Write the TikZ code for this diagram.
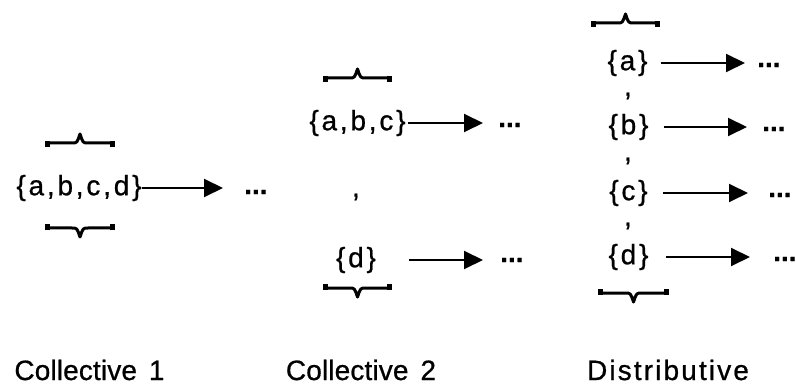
\documentclass[tikz,border=0pt]{standalone}
\usepackage{fontspec}
\setmainfont{Liberation Sans}[FakeBold=0.7]
\usetikzlibrary{arrows.meta,calc}
\tikzset{
  txt/.style={inner sep=0pt, font=\fontsize{28}{32}\selectfont\addfontfeature{LetterSpace=10}},
  lbl/.style={inner sep=0pt, font=\fontsize{28}{32}\selectfont\addfontfeature{LetterSpace=#1}},
  lbl/.default=0.5,
  dotsn/.style={inner sep=0pt, anchor=west, font=\fontsize{28}{32}\selectfont\bfseries},
  arr/.style={line width=2pt, -{Triangle[length=19pt,width=18pt]}},
  bracepen/.style={line width=3pt, line join=round},
  pics/bracetop/.style={code={
    \draw[bracepen] (-#1,0) -- (-8,0) .. controls (-3,0) .. (0,-9) .. controls (3,0) .. (8,0) -- (#1,0);
    \fill (-#1-2,-2) rectangle (-#1+3,4);
    \fill (#1-3,-2) rectangle (#1+2,4);
  }},
  pics/bracebot/.style={code={
    \draw[bracepen] (-#1,0) -- (-8,0) .. controls (-3,0) .. (0,9) .. controls (3,0) .. (8,0) -- (#1,0);
    \fill (-#1-2,2) rectangle (-#1+3,-4);
    \fill (#1-3,2) rectangle (#1+2,-4);
  }}
}
\begin{document}
\begin{tikzpicture}[x=1pt,y=-1pt]
\useasboundingbox (0,0) rectangle (796,385);

% Collective 1
\pic at (80,143) {bracetop=33};
\pic at (80,228) {bracebot=33};
\node[txt] (abcd) at (79,188) {\{a,b,c,d\}};
\node[dotsn] (d1) at (244,192) {...};
\draw[arr] (abcd.east) -- ([xshift=-21pt]abcd.east -| d1.west);

% Collective 2
\pic at (357.5,78) {bracetop=32.5};
\pic at (357.5,288) {bracebot=32.5};
\node[txt] (abc) at (357.5,123) {\{a,b,c\}};
\node[dotsn] (d2a) at (498,125) {...};
\draw[arr] ([xshift=2pt]abc.east) -- ([xshift=-15pt]abc.east -| d2a.west);
\node[txt] (cm2) at (356,197) {,};
\node[txt] (dd) at (356,260) {\{d\}};
\node[dotsn] (d2b) at (500,260) {...};
\draw[arr] ([xshift=3pt]abc.east |- dd.east) -- ([xshift=-17pt]dd.east -| d2b.west);

% Distributive
\pic at (625.5,23) {bracetop=32.5};
\pic at (633.5,293) {bracebot=33.5};
\node[txt] (sa) at (627.5,63) {\{a\}};
\node[txt] (sb) at (628.5,127) {\{b\}};
\node[txt] (sc) at (628.5,193) {\{c\}};
\node[txt] (sd) at (628.5,257) {\{d\}};
\node[txt] (c1) at (628,96) {,};
\node[txt] (c2) at (628,161) {,};
\node[txt] (c3) at (628,226) {,};
\node[dotsn] (da) at (757,65) {...};
\node[dotsn] (db) at (762,129) {...};
\node[dotsn] (dc) at (768,195) {...};
\node[dotsn] (ddd) at (773,259) {...};
\draw[arr, shorten <=13pt] (sa.east) -- ([xshift=-12pt]sa.east -| da.west);
\draw[arr, shorten <=15pt] (sb.east) -- ([xshift=-15pt]sb.east -| db.west);
\draw[arr, shorten <=15pt] (sc.east) -- ([xshift=-20pt]sc.east -| dc.west);
\draw[arr, shorten <=17pt] (sd.east) -- ([xshift=-23pt]sd.east -| ddd.west);

% Labels
\node[lbl] (l1) at (89.5,370) {Collective\hspace{4pt} 1};
\node[lbl] (l2) at (361,370) {Collective\hspace{4pt} 2};
\node[lbl=7.6] (l3) at (668,370) {Distributive};
\end{tikzpicture}
\end{document}
